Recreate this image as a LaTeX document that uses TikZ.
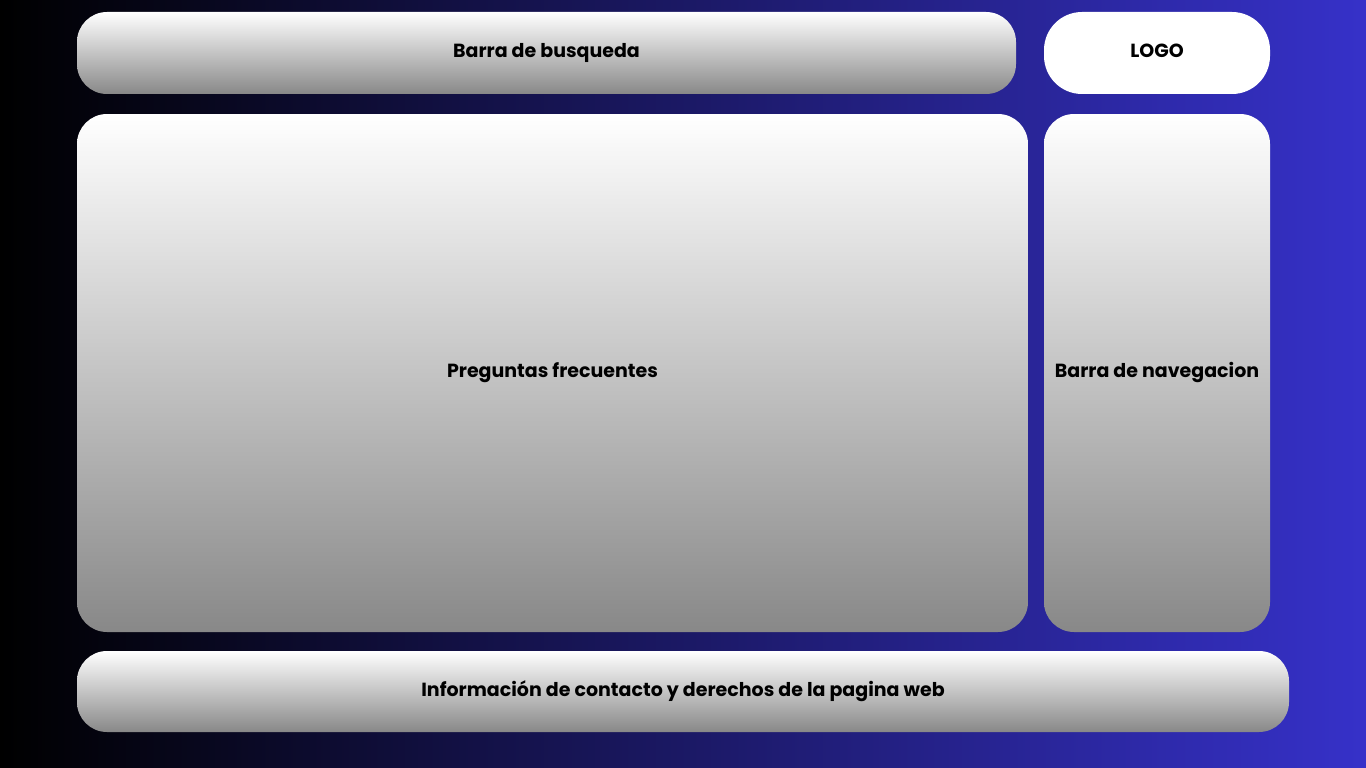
\documentclass[tikz,border=0pt]{standalone}
\usepackage{fontspec}
\setmainfont{Poppins}
\begin{document}
\begin{tikzpicture}[x=1pt,y=-1pt,
  label text/.style={font=\fontsize{19}{22}\selectfont\bfseries, text=black,
    text height=14pt, text depth=5pt},
  panel/.style={rounded corners=30pt, top color=white, bottom color=gray58,
    minimum width=#1, inner sep=0pt, label text},
  logobox/.style={rounded corners=38pt, fill=white, inner sep=0pt, label text}]
\definecolor{gray58}{HTML}{888888}
\definecolor{bgblue}{HTML}{3631C9}
% page background
\shade[left color=black, right color=bgblue] (0,0) rectangle (1366,768);
\useasboundingbox (0,0) rectangle (1366,768);
% header row
\node[panel=939pt, minimum height=82pt] (search) at (546.5,53) {Barra de busqueda};
\node[logobox, minimum width=226pt, minimum height=82pt] (logo) at (1157,53) {LOGO};
% main content and side navigation
\node[panel=951pt, minimum height=518pt] (faq) at (552.5,373) {Preguntas frecuentes};
\node[panel=226pt, minimum height=518pt] (nav) at (1157,373) {Barra de navegacion};
% footer
\node[panel=1212pt, minimum height=81pt] (footer) at (683,691.5) {Información de contacto y derechos de la pagina web};
\end{tikzpicture}
\end{document}
